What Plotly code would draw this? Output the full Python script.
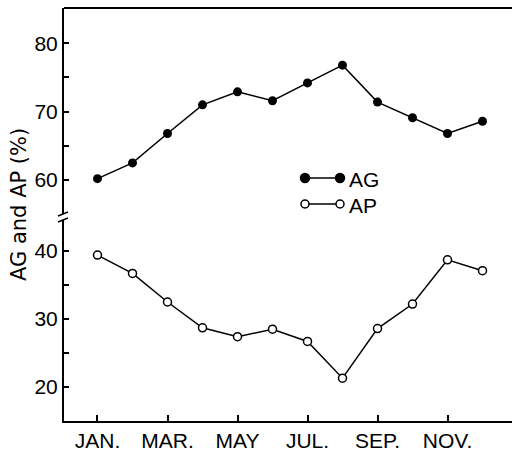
import plotly.graph_objects as go

months = [1, 2, 3, 4, 5, 6, 7, 8, 9, 10, 11, 12]
ag_values = [60.2, 62.5, 66.8, 71.0, 72.9, 71.6, 74.2, 76.8, 71.4, 69.1, 66.8, 68.6]
ap_values = [39.4, 36.7, 32.5, 28.7, 27.4, 28.5, 26.7, 21.3, 28.6, 32.2, 38.7, 37.1]
x_tick_vals = [1, 3, 5, 7, 9, 11]
x_tick_text = ["JAN.", "MAR.", "MAY", "JUL.", "SEP.", "NOV."]
series_names = ["AG", "AP"]
y_title = "AG and AP (%)"

FONT = "Liberation Sans"
W, H = 512, 454
ML, MR, MT, MB = 64, 0, 8, 33
PW, PH = W - ML - MR, H - MT - MB

def px_x(p):
    return (p - ML) / PW

def px_y(p):
    return (H - MB - p) / PH

fig = go.Figure()
fig.add_trace(go.Scatter(
    x=months, y=ag_values, name=series_names[0], xaxis="x2", yaxis="y2",
    mode="lines+markers", line=dict(color="black", width=1.5),
    marker=dict(symbol="circle", size=9, color="black"), showlegend=False))
fig.add_trace(go.Scatter(
    x=months, y=ap_values, name=series_names[1], xaxis="x", yaxis="y",
    mode="lines+markers", line=dict(color="black", width=1.5),
    marker=dict(symbol="circle", size=8, color="white", line=dict(color="black", width=1.5)),
    showlegend=False))

lower_top = px_y(220)
upper_bottom = px_y(214)

axis_common = dict(showgrid=False, zeroline=False, showline=True, linecolor="black",
                   linewidth=2, ticks="inside", tickwidth=1.5, tickcolor="black",
                   automargin=False,
                   tickfont=dict(family=FONT, size=21, color="black"))

fig.update_layout(
    width=W, height=H, margin=dict(l=ML, r=MR, t=MT, b=MB, autoexpand=False),
    paper_bgcolor="white", plot_bgcolor="white",
    xaxis=dict(range=[0.043, 12.843], tickvals=x_tick_vals, ticktext=x_tick_text,
               anchor="y", domain=[0, 1], ticklen=6, ticklabelstandoff=0, **axis_common),
    yaxis=dict(range=[15.0, 44.56], domain=[0, lower_top], anchor="x",
               tickvals=[20, 30, 40], ticklen=5, ticklabelstandoff=0,
               minor=dict(tickvals=[25, 35], ticks="inside", ticklen=5, tickcolor="black", tickwidth=1.5),
               **axis_common),
    xaxis2=dict(range=[0.043, 12.843], anchor="y2", domain=[0, 1], visible=False),
    yaxis2=dict(range=[55.03, 85.16], domain=[upper_bottom, 1], anchor="x2",
                tickvals=[60, 70, 80], ticklen=5, ticklabelstandoff=0,
                minor=dict(tickvals=[65, 75], ticks="inside", ticklen=5, tickcolor="black", tickwidth=1.5),
                **axis_common),
    showlegend=False,
)

shapes = []
# top border
shapes.append(dict(type="line", xref="paper", yref="paper", x0=0, x1=1, y0=1, y1=1,
                   line=dict(color="black", width=2)))
# axis break slashes
for py in (214, 220):
    shapes.append(dict(type="line", xref="paper", yref="paper", xsizemode="pixel", ysizemode="pixel",
                       xanchor=0, yanchor=px_y(py), x0=-6, x1=4, y0=-2, y1=2,
                       line=dict(color="black", width=1.5)))
# legend samples
for py, filled in ((178, True), (204, False)):
    yp = px_y(py)
    shapes.append(dict(type="line", xref="paper", yref="paper", x0=px_x(305), x1=px_x(340), y0=yp, y1=yp,
                       line=dict(color="black", width=1.5)))
    for mx in (305, 340):
        r = 4.5 if filled else 4
        shapes.append(dict(type="circle", xref="paper", yref="paper", xsizemode="pixel", ysizemode="pixel",
                           xanchor=px_x(mx), yanchor=yp, x0=-r, x1=r, y0=-r, y1=r,
                           fillcolor="black" if filled else "white",
                           line=dict(color="black", width=1.5)))
fig.update_layout(shapes=shapes)

annotations = [
    dict(text=series_names[0], xref="paper", yref="paper", x=px_x(347), y=px_y(179),
         xanchor="left", yanchor="middle", showarrow=False, font=dict(family=FONT, size=21, color="black")),
    dict(text=series_names[1], xref="paper", yref="paper", x=px_x(347), y=px_y(205),
         xanchor="left", yanchor="middle", showarrow=False, font=dict(family=FONT, size=21, color="black")),
    dict(text=y_title, xref="paper", yref="paper", x=px_x(19), y=px_y(205), textangle=-90,
         xanchor="center", yanchor="middle", showarrow=False,
         font=dict(family="DejaVu Sans", size=21, color="black")),
]
fig.update_layout(annotations=annotations)

fig.write_html("out.html", config={"displayModeBar": False},
               post_script="document.body.style.margin='0';document.body.style.overflow='hidden';")
